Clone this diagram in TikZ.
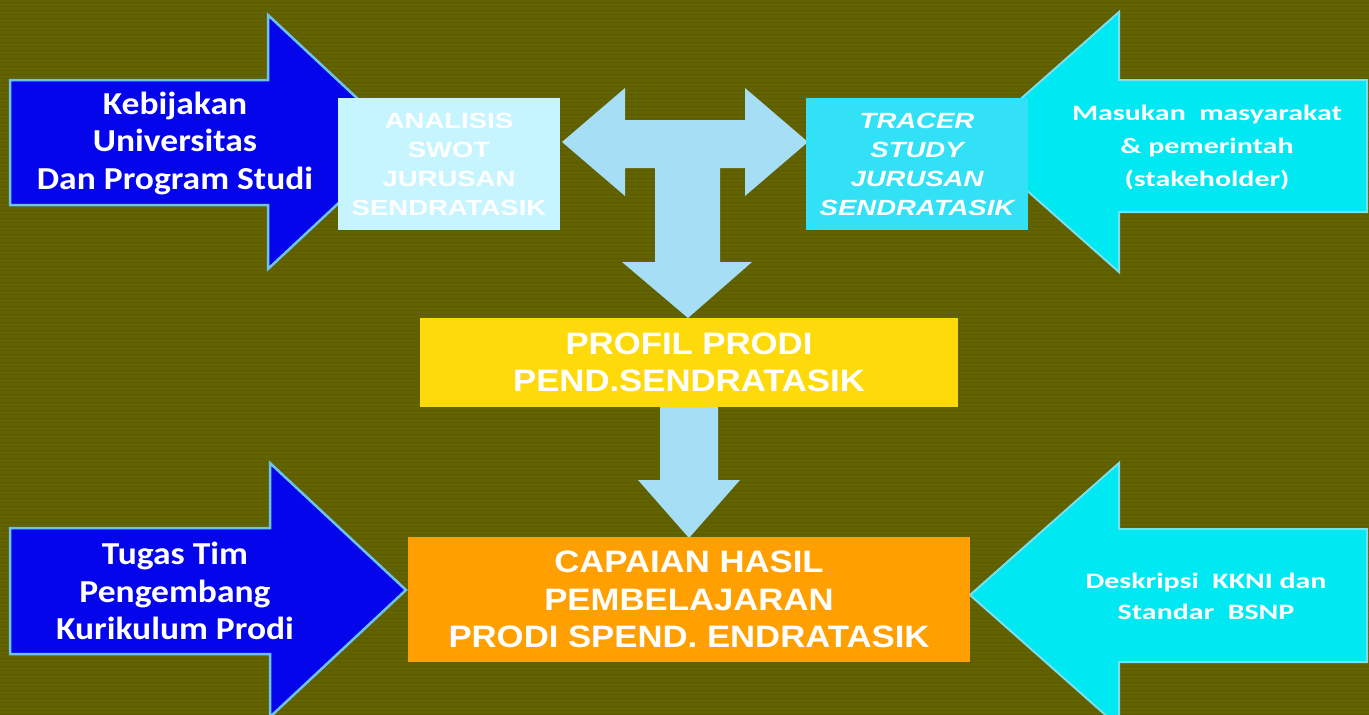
\documentclass[tikz,border=0pt]{standalone}
\usepackage{fontspec}
\setmainfont{Liberation Sans}
\newfontfamily\carlA[FakeStretch=1.11]{Carlito}
\newfontfamily\carlB[FakeStretch=1.36]{Carlito}
\newfontfamily\arialA[FakeStretch=1.25]{Liberation Sans}
\newfontfamily\arialB[FakeStretch=1.12]{Liberation Sans}
\definecolor{bgol}{RGB}{98,98,0}
\definecolor{bgline}{RGB}{91,91,0}
\definecolor{blueA}{RGB}{5,5,235}
\definecolor{blueEdge}{RGB}{110,195,235}
\definecolor{cyanA}{RGB}{0,232,242}
\definecolor{cyanEdge}{RGB}{120,225,240}
\definecolor{swotC}{RGB}{198,245,255}
\definecolor{tracerC}{RGB}{50,225,245}
\definecolor{tArrow}{RGB}{165,222,245}
\definecolor{yelC}{RGB}{255,218,10}
\definecolor{oraC}{RGB}{255,160,0}
\begin{document}
\begin{tikzpicture}[x=1pt,y=-1pt,
  bluearrow/.style={fill=blueA,draw=blueEdge,line width=2.5pt,line join=miter},
  cyanarrow/.style={fill=cyanA,draw=cyanEdge,line width=2pt,line join=miter},
  linkarrow/.style={fill=tArrow,draw=none},
  box/.style={rectangle,inner sep=0pt,draw=none},
  boxtext/.style={text=white,align=center,font=\arialA\bfseries\fontsize{22}{29}\selectfont},
  bigtext/.style={text=white,align=center,font=\arialB\bfseries\fontsize{31}{37.5}\selectfont},
  arrowtext/.style={text=white,align=center,font=\carlA\bfseries\fontsize{32}{37.5}\selectfont},
  smalltext/.style={text=white,align=center,font=\carlB\bfseries\fontsize{22}{33}\selectfont}]
\fill[bgol] (0,0) rectangle (1369,715);
\useasboundingbox (0,0) rectangle (1369,715);
\clip (0,0) rectangle (1369,715);
\foreach \yy in {2,6,...,714} {\draw[bgline,line width=1pt] (0,\yy) -- (1369,\yy);}
% left blue arrows
\draw[bluearrow] (10,80) -- (268,80) -- (268,15) -- (404,142) -- (268,269) -- (268,205) -- (10,205) -- cycle;
\draw[bluearrow] (10,528) -- (270,528) -- (270,463) -- (406,590) -- (270,717) -- (270,654) -- (10,654) -- cycle;
% right cyan arrows
\draw[cyanarrow] (1367,80) -- (1119,80) -- (1119,12) -- (972,142) -- (1119,272) -- (1119,212) -- (1367,212) -- cycle;
\draw[cyanarrow] (1367,529) -- (1119,529) -- (1119,463) -- (970,595) -- (1119,727) -- (1119,662) -- (1367,662) -- cycle;
% T-shaped link arrow
\fill[linkarrow] (562,142) -- (625,88) -- (625,120) -- (745,120) -- (745,88) -- (808,142) -- (745,196) -- (745,168) -- (720,168) -- (720,262) -- (752,262) -- (688,318) -- (622,262) -- (655,262) -- (655,168) -- (625,168) -- (625,196) -- cycle;
% down link arrow
\fill[linkarrow] (660,407) -- (718,407) -- (718,480) -- (740,480) -- (689,538) -- (638,480) -- (660,480) -- cycle;
% boxes
\node[box,fill=swotC,minimum width=222pt,minimum height=132pt] (swot) at (449,164) {};
\node[boxtext] at (swot.center) {ANALISIS\\SWOT\\JURUSAN\\SENDRATASIK};
\node[box,fill=tracerC,minimum width=222pt,minimum height=132pt] (tracer) at (917,164) {};
\node[boxtext,font=\arialA\bfseries\itshape\fontsize{22}{29}\selectfont] at (tracer.center) {TRACER\\STUDY\\JURUSAN\\SENDRATASIK};
\node[box,fill=yelC,minimum width=538pt,minimum height=89pt] (profil) at (689,362.5) {};
\node[bigtext] at (profil.center) {PROFIL PRODI\\PEND.SENDRATASIK};
\node[box,fill=oraC,minimum width=562pt,minimum height=125pt] (capaian) at (689,599.5) {};
\node[bigtext] at (capaian.center) {CAPAIAN HASIL\\PEMBELAJARAN\\PRODI SPEND. ENDRATASIK};
% arrow texts
\node[arrowtext] (keb) at (175,143) {Kebijakan\\Universitas\\Dan Program Studi};
\node[arrowtext] (tugas) at (175,591) {Tugas Tim\\Pengembang\\Kurikulum Prodi};
\node[smalltext] (mas) at (1207,147) {Masukan\ \ masyarakat\\\&\ pemerintah\\(stakeholder)};
\node[smalltext,font=\carlB\bfseries\fontsize{22}{31}\selectfont] (desk) at (1206,596) {Deskripsi\ \ KKNI dan\\Standar\ \ BSNP};
\end{tikzpicture}
\end{document}
